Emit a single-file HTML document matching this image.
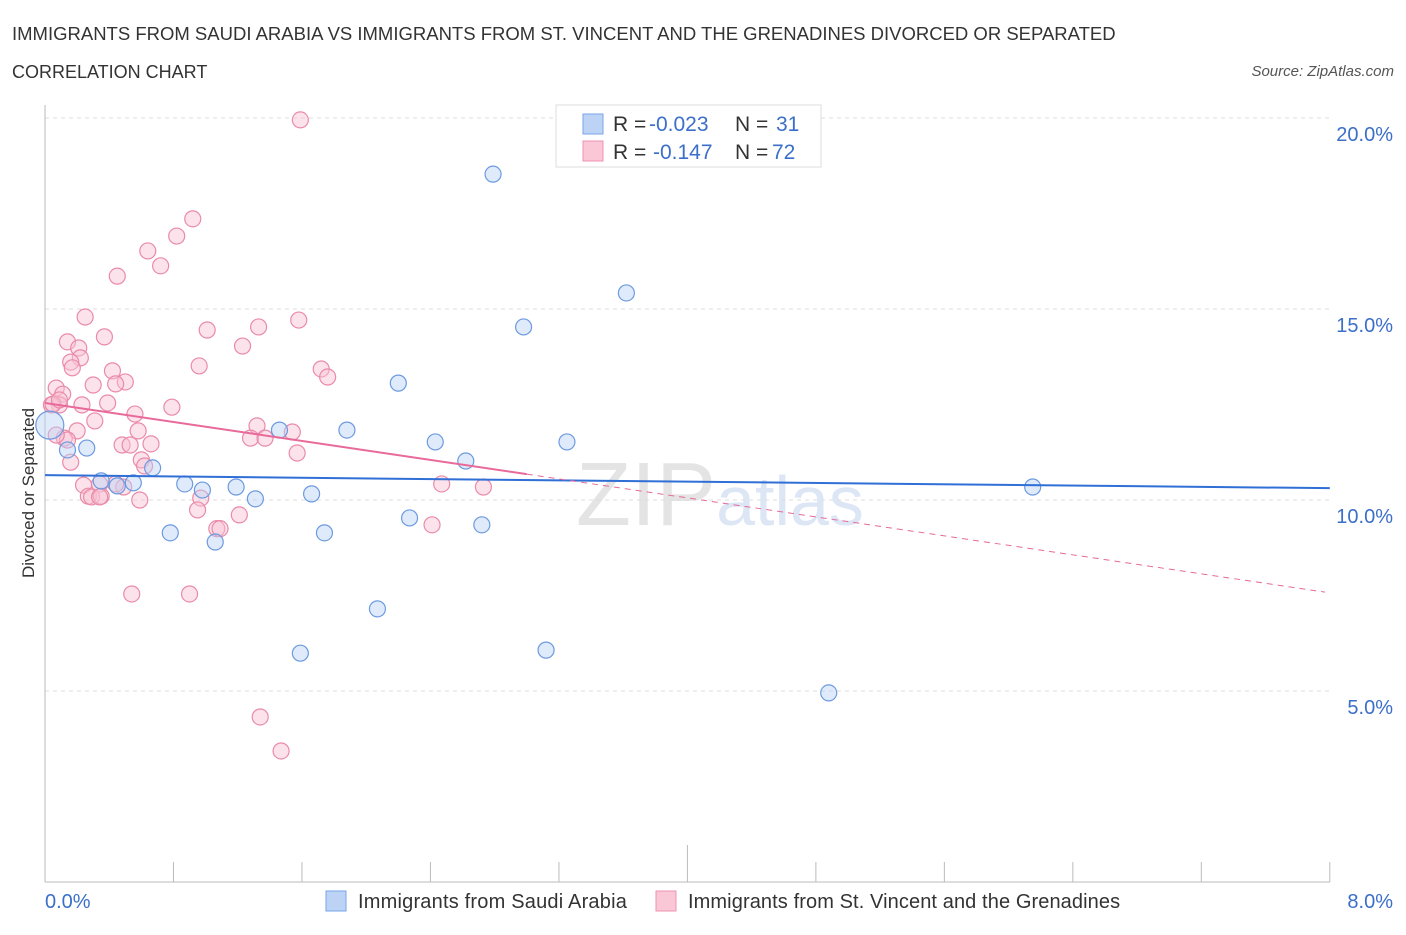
<!DOCTYPE html>
<html><head><meta charset="utf-8"><style>
body{margin:0;background:#fff;font-family:"Liberation Sans",sans-serif;}
svg text{font-family:"Liberation Sans",sans-serif;}
</style></head><body>
<svg width="1406" height="930">
<text x="12" y="40" font-size="18.5" fill="#333">IMMIGRANTS FROM SAUDI ARABIA VS IMMIGRANTS FROM ST. VINCENT AND THE GRENADINES DIVORCED OR SEPARATED</text>
<text x="12" y="78" font-size="18" fill="#333">CORRELATION CHART</text>
<text x="1394" y="76" font-size="15" fill="#555" font-style="italic" text-anchor="end">Source: ZipAtlas.com</text>
<text x="720" y="525" font-size="90" fill="#e4e4e4" text-anchor="middle" font-family="Liberation Serif">ZIP<tspan fill="#dce6f5" font-family="Liberation Sans" font-size="70">atlas</tspan></text>
<g id="grid"></g>
<g id="axes"></g>
<g id="marks"></g>
<text transform="translate(34,493) rotate(-90)" font-size="17" fill="#333" text-anchor="middle">Divorced or Separated</text>
<text x="45" y="908" font-size="20" fill="#3b6fc9">0.0%</text>
<text x="1393" y="908" font-size="20" fill="#3b6fc9" text-anchor="end">8.0%</text>
<g>
<rect x="556" y="105" width="265" height="62" fill="#fff" stroke="#ddd"/>
<rect x="583" y="114" width="20" height="20" fill="#bcd3f5" stroke="#7aa5e6"/>
<rect x="583" y="141" width="20" height="20" fill="#f9c7d6" stroke="#ee93b0"/>
<text x="613" y="131" font-size="21" fill="#333">R = <tspan fill="#3b6fc9" x="649">-0.023</tspan><tspan x="735">N = </tspan><tspan fill="#3b6fc9" x="776">31</tspan></text>
<text x="613" y="159" font-size="21" fill="#333">R = <tspan fill="#3b6fc9" x="653">-0.147</tspan><tspan x="735">N = </tspan><tspan fill="#3b6fc9" x="772">72</tspan></text>
</g>
<g>
<rect x="326" y="891" width="20" height="20" fill="#bcd3f5" stroke="#7aa5e6"/>
<text x="358" y="908" font-size="20" letter-spacing="0.2" fill="#333">Immigrants from Saudi Arabia</text>
<rect x="656" y="891" width="20" height="20" fill="#f9c7d6" stroke="#ee93b0"/>
<text x="688" y="908" font-size="20" letter-spacing="0.1" fill="#333">Immigrants from St. Vincent and the Grenadines</text>
</g>
</svg>
<script>
const yTicks=[5,10,15,20];
const yTickLabels=["5.0%","10.0%","15.0%","20.0%"];
const xTicks=[0,0.8,1.6,2.4,3.2,4,4.8,5.6,6.4,7.2,8];
const blueX=[2.79,3.62,2.98,2.20,1.88,1.46,2.43,3.25,0.26,0.14,2.62,0.67,0.35,0.55,0.45,0.87,0.98,1.19,1.66,1.31,6.15,2.27,2.72,0.78,1.74,1.06,2.07,1.59,3.12,4.88,0.03];
const blueY=[18.53,15.42,14.53,13.06,11.83,11.83,11.52,11.52,11.36,11.31,11.02,10.84,10.50,10.45,10.37,10.42,10.26,10.34,10.16,10.03,10.34,9.53,9.35,9.14,9.14,8.90,7.15,5.99,6.07,4.95,11.96];
const pinkX=[1.59,0.92,0.82,0.64,0.72,0.45,0.25,1.58,1.01,0.37,0.14,1.23,1.33,0.21,0.22,0.16,0.17,0.96,1.72,1.76,0.42,0.50,0.44,0.30,0.07,0.11,0.09,0.04,0.23,0.39,0.79,0.56,0.31,1.32,1.54,0.58,0.20,0.12,1.28,1.37,0.48,0.53,0.66,1.57,0.16,0.60,0.62,0.24,0.34,0.49,0.27,0.29,0.35,0.59,0.97,2.47,2.73,0.95,1.21,1.07,1.09,2.41,0.54,0.90,1.34,1.47,0.05,0.09,0.14,0.07,0.34,0.44];
const pinkY=[19.95,17.36,16.91,16.52,16.13,15.86,14.79,14.71,14.45,14.27,14.14,14.03,14.53,13.98,13.72,13.61,13.46,13.51,13.43,13.22,13.38,13.09,13.04,13.01,12.93,12.77,12.49,12.49,12.49,12.54,12.43,12.25,12.07,11.94,11.78,11.81,11.81,11.62,11.62,11.62,11.44,11.44,11.47,11.23,10.99,11.05,10.89,10.39,10.42,10.34,10.10,10.08,10.10,10.00,10.05,10.42,10.34,9.74,9.61,9.25,9.25,9.35,7.54,7.54,4.32,3.43,12.51,12.62,11.57,11.70,10.08,10.42];
const blueTrend=[10.65,10.31];
const pinkTrend=[12.54,7.57];
const pinkSolidEnd=3.0;
const xs=v=>45+v*160.6, ys=v=>882-v*38.2;
const NS="http://www.w3.org/2000/svg";
function mk(tag,attrs,parent){const e=document.createElementNS(NS,tag);for(const k in attrs)e.setAttribute(k,attrs[k]);parent.appendChild(e);return e;}
const grid=document.getElementById('grid'),axes=document.getElementById('axes'),marks=document.getElementById('marks');
yTicks.forEach((t,i)=>{
 const l=mk('line',{x1:45,x2:1330,y1:ys(t),y2:ys(t),stroke:'#ddd','stroke-dasharray':'4,4'},grid);
 
 
 const tx=mk('text',{x:1393,y:ys(t)+23,'font-size':20,fill:'#3b6fc9','text-anchor':'end'},grid);
 tx.textContent=yTickLabels[i];
 
 
});
const ya=mk('line',{x1:45,x2:45,y1:105,y2:882,stroke:'#bbb'},axes);


const xa=mk('line',{x1:45,x2:1330,y1:882,y2:882,stroke:'#bbb'},axes);


xTicks.forEach((t,i)=>{
 const l=mk('line',{x1:xs(t),x2:xs(t),y1:i==5?845:862,y2:882,stroke:'#bbb'},axes);
 
 
});
function dots(X,Y,fill,stroke,name){X.forEach((x,i)=>{
 const big=(name==='saudi-point'&&i===X.length-1);
 const c=mk('circle',{cx:xs(x),cy:ys(Y[i]),r:big?14:8,fill:fill,'fill-opacity':0.45,stroke:stroke,'stroke-width':1.2},marks);
 
 
});}
dots(pinkX,pinkY,'#f9c0d2','#ea8aa9','stvincent-point');
dots(blueX,blueY,'#b8d0f4','#6c9ae0','saudi-point');
const bt=mk('line',{x1:xs(0),y1:ys(blueTrend[0]),x2:xs(8),y2:ys(blueTrend[1]),stroke:'#2f6fd6','stroke-width':2},marks);


const pAt=x=>pinkTrend[0]+(pinkTrend[1]-pinkTrend[0])*x/8;
const pt=mk('line',{x1:xs(0),y1:ys(pAt(0)),x2:xs(pinkSolidEnd),y2:ys(pAt(pinkSolidEnd)),stroke:'#e8699a','stroke-width':2},marks);


const pd=mk('line',{x1:xs(pinkSolidEnd),y1:ys(pAt(pinkSolidEnd)),x2:xs(7.97),y2:ys(pAt(7.97)),stroke:'#e8699a','stroke-width':1,'stroke-dasharray':'6,5'},marks);


</script>
</body></html>
